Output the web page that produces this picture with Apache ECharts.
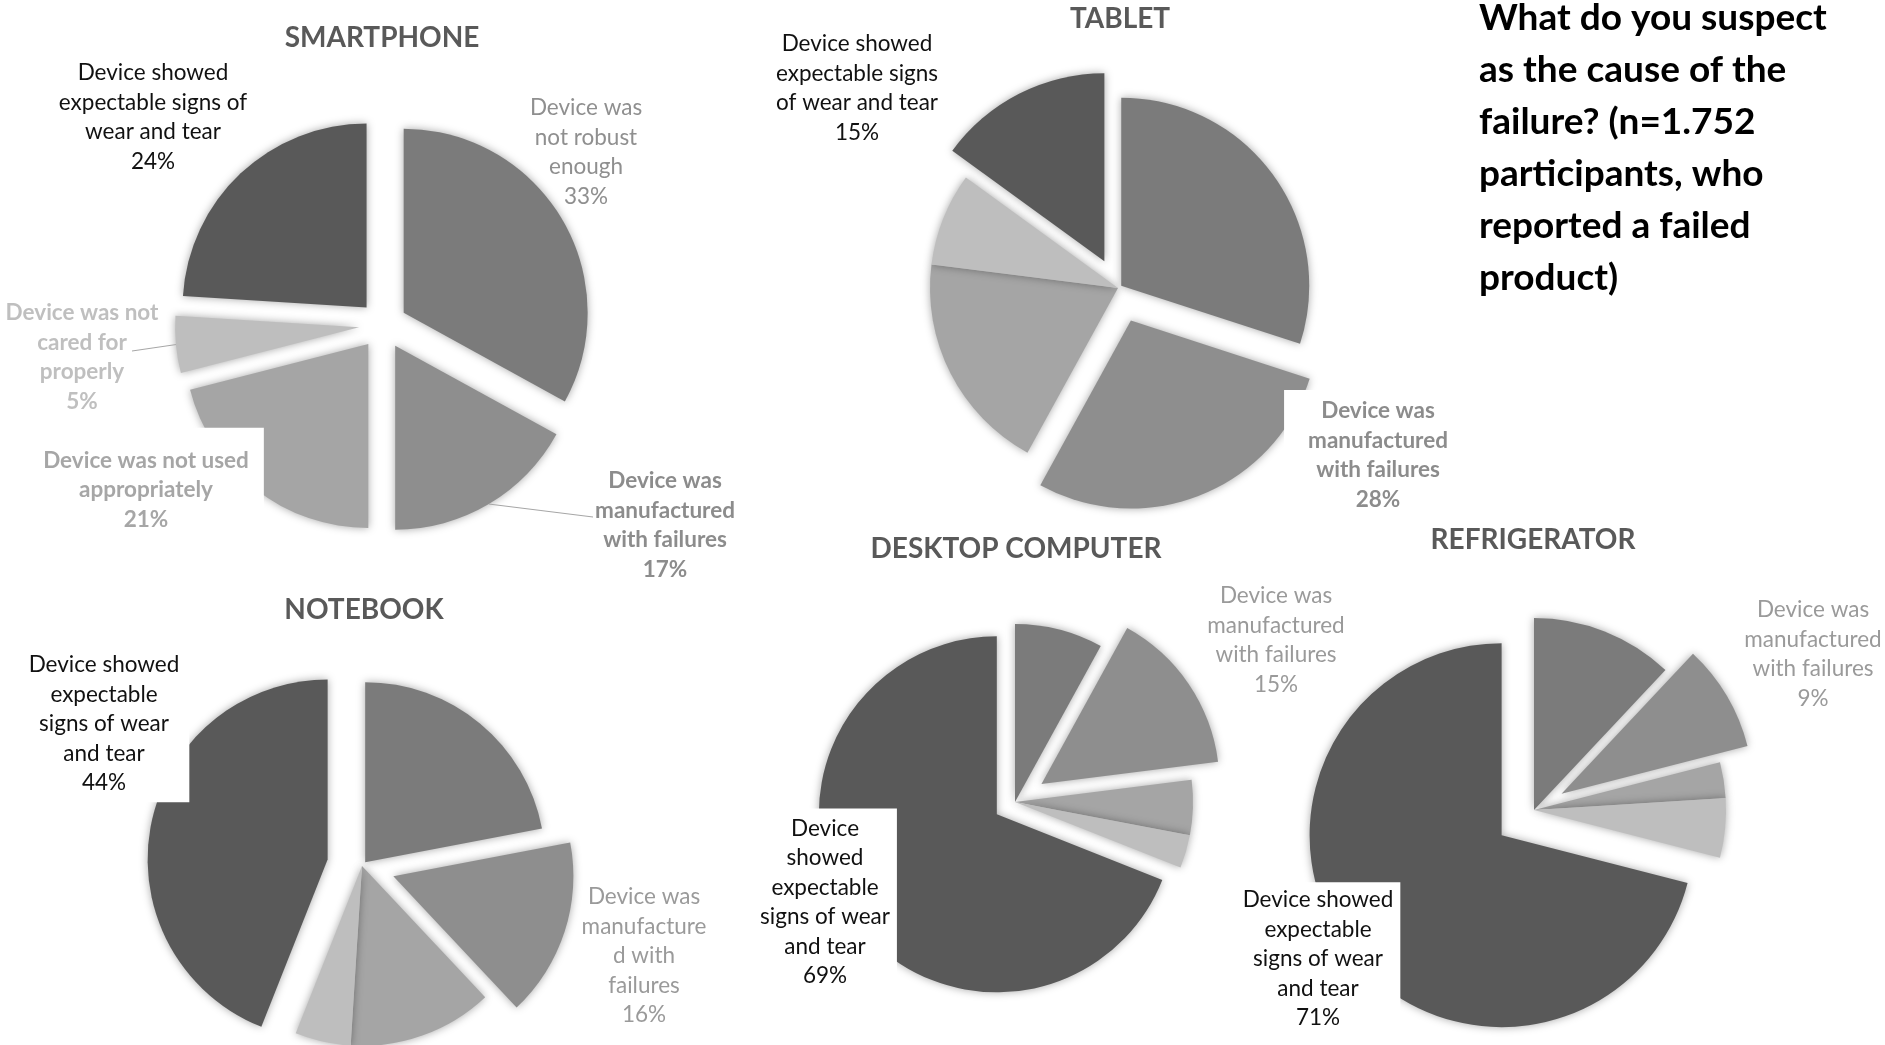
<!DOCTYPE html>
<html>
<head>
<meta charset="utf-8">
<script src="https://cdn.jsdelivr.net/npm/echarts@6/dist/echarts.min.js"></script>
<style>
  html, body { margin: 0; padding: 0; background: #fff; }
  #chart { width: 1885px; height: 1045px; }
</style>
</head>
<body>
<div id="chart"></div>
<script>
// categories, in clockwise order from 12 o'clock
const causes = [
  'Device was not robust enough',
  'Device was manufactured with failures',
  'Device was not used appropriately',
  'Device was not cared for properly',
  'Device showed expectable signs of wear and tear'
];

// shares in %
const smartphone = [33, 17, 21, 5, 24];
const tablet = [30, 28, 19, 8, 15];
const notebook = [22, 16, 13, 5, 44];
const desktop = [8, 15, 5, 3, 69];
const refrigerator = [12, 9, 3, 5, 71];

const question = [
  'What do you suspect',
  'as the cause of the',
  'failure? (n=1.752',
  'participants, who',
  'reported a failed',
  'product)'
];

const sliceColors = ['#7b7b7b', '#8e8e8e', '#a5a5a5', '#bebebe', '#595959'];
const FONT = 'Lato';
const LABEL_SIZE = 22.5;
const LINE_H = 29.5;

// layout of each pie: centre, radius, per-slice explode offset, label placement
const pies = [
  {
    title: 'SMARTPHONE', values: smartphone, titleAt: [382, 38],
    center: [383, 325], radius: 184, explode: [24, 24, 24, 24, 24],
    labels: {
      0: { text: 'Device was\nnot robust\nenough', at: [586, 152], color: '#8f8f8f' },
      1: { text: 'Device was\nmanufactured\nwith failures', at: [665, 525], color: '#8c8c8c', bold: true,
           lineTo: [-72, -8] },
      2: { text: 'Device was not used\nappropriately', at: [146, 490], color: '#a6a6a6', bold: true,
           bg: true, pad: [28, 15, 8, 15] },
      3: { text: 'Device was not\ncared for\nproperly', at: [82, 357], color: '#bfbfbf', bold: true,
           lineTo: [50, -6] },
      4: { text: 'Device showed\nexpectable signs of\nwear and tear', at: [153, 117], color: '#111' }
    }
  },
  {
    title: 'TABLET', values: tablet, titleAt: [1120, 19],
    center: [1118, 288], radius: 188, explode: [4, 35, 0, 0, 30],
    labels: {
      1: { text: 'Device was\nmanufactured\nwith failures', at: [1371, 455], color: '#8c8c8c', bold: true,
           bg: true, pad: [6, 10, 6, 24] },
      4: { text: 'Device showed\nexpectable signs\nof wear and tear', at: [857, 88], color: '#111' }
    }
  },
  {
    title: 'NOTEBOOK', values: notebook, titleAt: [364, 610],
    center: [362, 866], radius: 180, explode: [5, 33, 0, 0, 35],
    labels: {
      1: { text: 'Device was\nmanufacture\nd with\nfailures', at: [644, 956], color: '#9a9a9a' },
      4: { text: 'Device showed\nexpectable\nsigns of wear\nand tear', at: [104, 724], color: '#111',
           bg: true, pad: [6, 10, 3, 10] }
    }
  },
  {
    title: 'DESKTOP COMPUTER', values: desktop, titleAt: [1016, 549],
    center: [1015, 802], radius: 178, explode: [0, 32, 0, 0, 22],
    labels: {
      1: { text: 'Device was\nmanufactured\nwith failures', at: [1276, 640], color: '#9a9a9a' },
      4: { text: 'Device\nshowed\nexpectable\nsigns of wear\nand tear', at: [825, 902], color: '#111',
           bg: true, pad: [5, 7, 5, 7] }
    }
  },
  {
    title: 'REFRIGERATOR', values: refrigerator, titleAt: [1533, 540],
    center: [1534, 810], radius: 192, explode: [0, 32, 0, 0, 41],
    labels: {
      1: { text: 'Device was\nmanufactured\nwith failures', at: [1813, 654], color: '#9a9a9a' },
      4: { text: 'Device showed\nexpectable\nsigns of wear\nand tear', at: [1318, 959], color: '#111',
           bg: true, pad: [3, 7, 3, 7] }
    }
  }
];

function sliceSeries(p) {
  const out = [];
  const offsets = [...new Set(p.explode)];
  offsets.forEach(off => {
    out.push({
      type: 'pie',
      center: p.center,
      radius: p.radius,
      startAngle: 90,
      selectedMode: 'multiple',
      selectedOffset: off,
      silent: true,
      z: 2,
      label: { show: false },
      labelLine: { show: false },
      emphasis: { disabled: true },
      data: p.values.map((v, i) => {
        const mine = p.explode[i] === off;
        return {
          name: causes[i],
          value: v,
          selected: mine && off > 0,
          itemStyle: mine
            ? { color: sliceColors[i], shadowBlur: 9, shadowColor: 'rgba(0,0,0,0.35)' }
            : { color: 'rgba(0,0,0,0)' }
        };
      })
    });
  });
  return out;
}

// labels live in an un-exploded transparent copy of the pie
function labelSeries(p) {
  return {
    type: 'pie',
    center: p.center,
    radius: p.radius,
    startAngle: 90,
    silent: true,
    z: 3,
    avoidLabelOverlap: false,
    emphasis: { disabled: true },
    data: p.values.map((v, i) => {
      const l = p.labels[i];
      const item = { name: causes[i], value: v, itemStyle: { color: 'rgba(0,0,0,0)' } };
      if (!l) {
        item.label = { show: false };
        item.labelLine = { show: false };
        return item;
      }
      item.label = {
        show: true,
        formatter: (prm) => l.text + '\n' + Math.round(prm.percent) + '%',
        fontFamily: FONT,
        fontSize: LABEL_SIZE,
        lineHeight: LINE_H,
        fontWeight: l.bold ? 'bold' : 'normal',
        color: l.color,
        align: 'center',
        backgroundColor: l.bg ? '#fff' : 'transparent',
        padding: l.pad || 0
      };
      item.labelLine = l.lineTo
        ? { show: true, length: 10, length2: 10, lineStyle: { color: '#a6a6a6', width: 1 } }
        : { show: false };
      return item;
    }),
    labelLayout: (prm) => {
      const l = p.labels[prm.dataIndex];
      if (!l) return {};
      const res = { x: l.at[0], y: l.at[1], align: 'center', verticalAlign: 'middle' };
      if (l.lineTo && prm.labelLinePoints) {
        // push the arc point out to where the exploded slice actually sits
        const a = prm.labelLinePoints[0];
        const k = (p.radius + p.explode[prm.dataIndex]) / p.radius;
        const start = [p.center[0] + (a[0] - p.center[0]) * k, p.center[1] + (a[1] - p.center[1]) * k];
        const end = [l.at[0] + l.lineTo[0], l.at[1] + l.lineTo[1]];
        res.labelLinePoints = [start, [(start[0] + end[0]) / 2, (start[1] + end[1]) / 2], end];
      }
      return res;
    }
  };
}

const series = [];
pies.forEach(p => {
  series.push(...sliceSeries(p));
  series.push(labelSeries(p));
});

const titles = pies.map(p => ({
  text: p.title,
  left: p.titleAt[0],
  top: p.titleAt[1],
  textAlign: 'center',
  textVerticalAlign: 'middle',
  padding: 0,
  textStyle: { fontFamily: FONT, fontSize: 28, fontWeight: 'bold', color: '#595959' }
}));
titles.push({
  text: question.join('\n'),
  left: 1479,
  top: -8,
  padding: 0,
  textStyle: { fontFamily: FONT, fontSize: 37, fontWeight: 'bold', color: '#000', lineHeight: 52 }
});

const chart = echarts.init(document.getElementById('chart'));
chart.setOption({
  animation: false,
  backgroundColor: '#fff',
  title: titles,
  series: series
});
</script>
</body>
</html>
